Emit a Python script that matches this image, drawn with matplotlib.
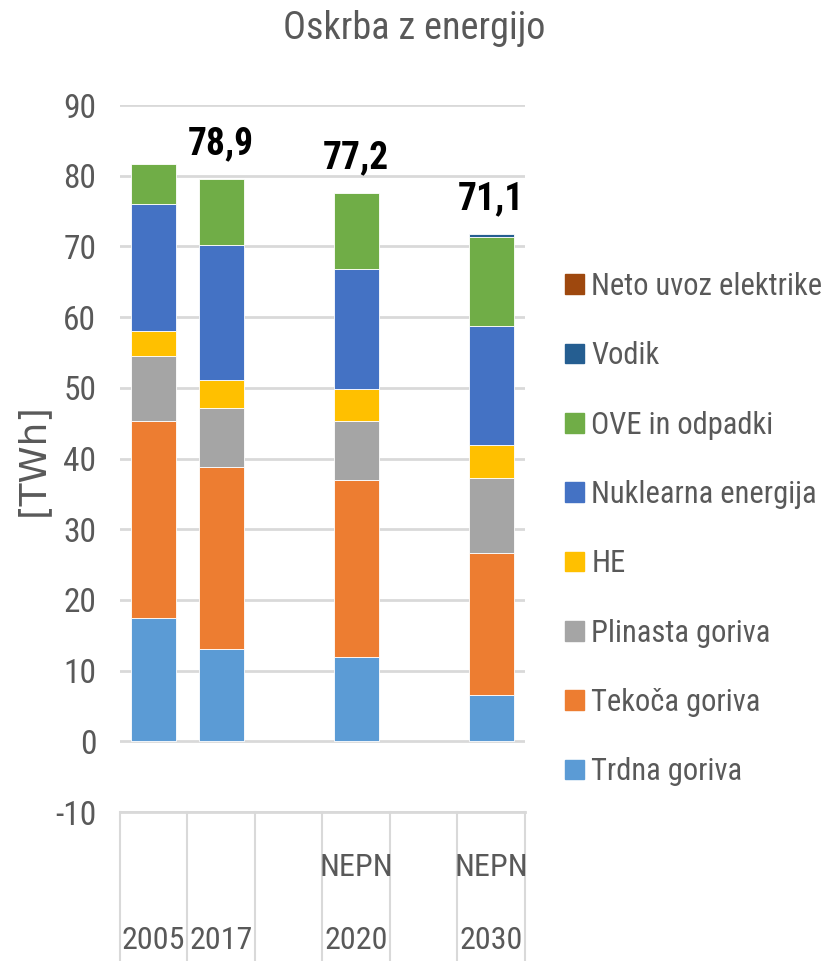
import numpy as np
import matplotlib
matplotlib.use('Agg')
import matplotlib.pyplot as plt
from matplotlib.patches import Patch
from matplotlib import font_manager as fm

# the original uses a narrow font; take the narrowest installed one
names = set(f.name for f in fm.fontManager.ttflist)
narrow = None
for n in ['Liberation Sans Narrow', 'Roboto Condensed', 'Noto Sans Condensed',
          'Noto Sans SemiCondensed', 'Open Sans Condensed', 'DejaVu Sans Condensed']:
    if n in names:
        narrow = n
        break
if narrow is None:
    for fam in ['Roboto', 'Noto Sans', 'Open Sans', 'DejaVu Sans']:
        if any(f.name == fam and 'condensed' in str(f.stretch) for f in fm.fontManager.ttflist):
            narrow = fam
            plt.rcParams['font.stretch'] = 'condensed'
            break
if narrow is None:
    narrow = 'Liberation Sans'
plt.rcParams['font.family'] = [narrow, 'DejaVu Sans']
plt.rcParams['axes.unicode_minus'] = False

# data (TWh)
years = ['2005', '2017', '', '2020', '', '2030']
groups = ['', '', '', 'NEPN', '', 'NEPN']
trdna = [17.4, 13.1, 0, 12.0, 0, 6.6]
tekoca = [27.9, 25.7, 0, 24.9, 0, 20.0]
plinasta = [9.2, 8.4, 0, 8.4, 0, 10.7]
he = [3.5, 3.9, 0, 4.6, 0, 4.6]
nuklearna = [18.0, 19.1, 0, 16.9, 0, 16.8]
ove = [5.7, 9.3, 0, 10.7, 0, 12.7]
vodik = [0, 0, 0, 0, 0, 0.4]
neto_uvoz = [0, 0, 0, 0, 0, 0]
totals = [None, 78.9, None, 77.2, None, 71.1]

series = [
    ('Trdna goriva', trdna, '#5B9BD5'),
    ('Tekoča goriva', tekoca, '#ED7D31'),
    ('Plinasta goriva', plinasta, '#A5A5A5'),
    ('HE', he, '#FFC000'),
    ('Nuklearna energija', nuklearna, '#4472C4'),
    ('OVE in odpadki', ove, '#70AD47'),
    ('Vodik', vodik, '#255E91'),
    ('Neto uvoz elektrike', neto_uvoz, '#9E480E'),
]

grey = '#595959'
fig = plt.figure(figsize=(8.28, 9.61), dpi=100)
ax = fig.add_axes([0.1449, 0.155, 0.4891, 0.7357])

x = np.arange(len(years))
bottom = np.zeros(len(years))
for name, vals, col in series:
    vals = np.array(vals, dtype=float)
    m = vals > 0
    ax.bar(x[m], vals[m], 0.67, bottom=bottom[m], color=col, edgecolor='#FFFFFF', linewidth=0.6, zorder=3)
    bottom += vals

for i, t in enumerate(totals):
    if t is None:
        continue
    ax.annotate(('%.1f' % t).replace('.', ','), (x[i], bottom[i]), xytext=(0, 12),
                textcoords='offset points', ha='center', va='bottom',
                fontsize=27, fontweight='bold', color='black')

ax.set_xlim(-0.5, len(years) - 0.5)
ax.set_ylim(-10, 90)
ax.set_yticks(range(-10, 91, 10))
ax.yaxis.grid(True, color='#D9D9D9', linewidth=2, zorder=0)
ax.set_xticks([])
for s in ax.spines.values():
    s.set_visible(False)
ax.tick_params(axis='y', length=0, pad=17, labelsize=24, labelcolor=grey)

# category axis area below the plot
tr = ax.get_xaxis_transform()
ax.plot([-0.5, len(years) - 0.5], [0, 0], transform=tr, color='#D9D9D9', lw=2, clip_on=False)
for b in np.arange(-0.5, len(years), 1.0):
    ax.plot([b, b], [0, -0.22], transform=tr, color='#D9D9D9', lw=1.5, clip_on=False)
for i in range(len(years)):
    ax.text(x[i], -0.181, years[i], transform=tr, ha='center', va='center', fontsize=23, color=grey)
    ax.text(x[i], -0.078, groups[i], transform=tr, ha='center', va='center', fontsize=23, color=grey)

fig.text(0.5, 0.970, 'Oskrba z energijo', ha='center', va='center', fontsize=27.5, color=grey)
fig.text(0.040, 0.5213, '[TWh]', rotation=90, ha='center', va='center', fontsize=27,
         color=grey, family='DejaVu Sans')

handles = [Patch(color=col, label=name) for name, vals, col in series][::-1]
fig.legend(handles=handles, loc='upper left', bbox_to_anchor=(0.682, 0.717), frameon=False,
           fontsize=22, labelcolor=grey, handlelength=0.62, handleheight=0.62,
           handletextpad=0.25, labelspacing=1.32, borderaxespad=0, borderpad=0)

fig.savefig('out.png', dpi=100)
